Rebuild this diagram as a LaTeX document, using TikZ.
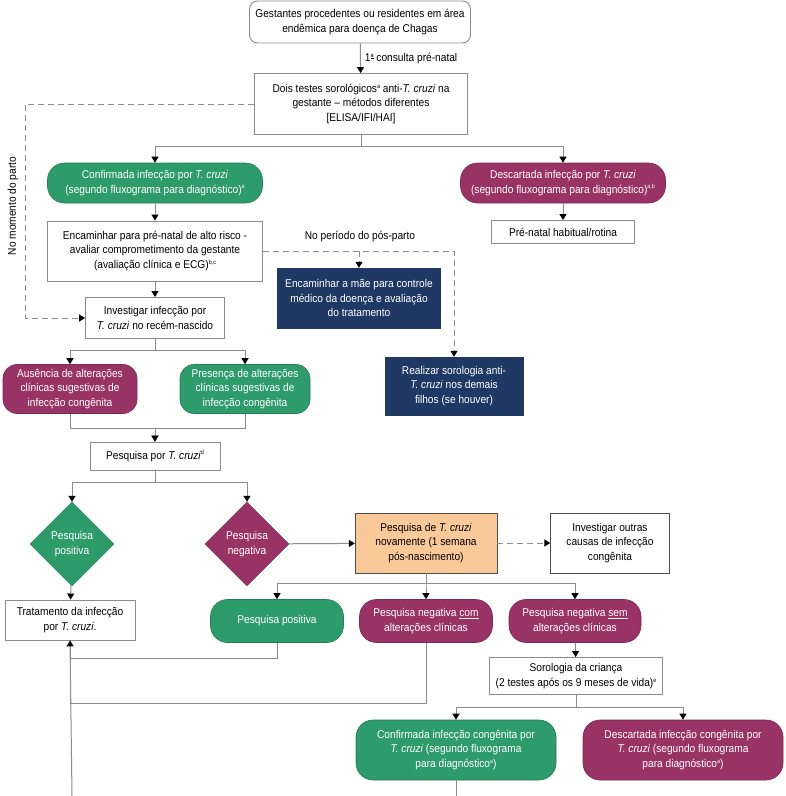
\documentclass[tikz,border=0pt]{standalone}
\usepackage{fontspec}
\setmainfont[FakeStretch=0.9]{Liberation Sans}
\usetikzlibrary{arrows.meta,shapes.geometric}
\definecolor{chgreen}{RGB}{46,155,106}
\definecolor{chmagenta}{RGB}{153,51,102}
\definecolor{chnavy}{RGB}{31,56,100}
\definecolor{chorange}{RGB}{250,201,154}
\definecolor{chline}{RGB}{140,140,140}
\newcommand{\fn}[1]{\raisebox{0.7ex}{\fontsize{6}{6}\selectfont #1}}

\begin{document}
\begin{tikzpicture}[x=1pt,y=-1pt,
  every node/.style={align=center,font=\fontsize{11.3}{14.5}\selectfont,inner sep=2pt},
  plainbox/.style={draw=chline,line width=0.9pt,fill=white,minimum width=#1},
  pill/.style={draw=#1!80!black,fill=#1,text=white,rounded corners=17pt,line width=0.6pt},
  navybox/.style={draw=chnavy,fill=chnavy,text=white,minimum width=#1},
  testdiamond/.style={diamond,draw=#1!80!black,fill=#1,text=white,minimum width=84pt,minimum height=84pt,inner sep=0pt,aspect=1},
  link/.style={draw=chline,line width=1pt},
  arr/.style={link,-{Triangle[color=black,width=7pt,length=6pt]}},
  dasharr/.style={arr,dash pattern=on 6pt off 4pt}]
  \fill[white] (0,0) rectangle (786,796);
  \useasboundingbox (0,0) rectangle (786,796);

  % gestante
  \node[plainbox=221pt,rounded corners=8pt,minimum height=42pt] (top) at (360,22)
    {Gestantes procedentes ou residentes em área\\endêmica para doença de Chagas};
  \node[plainbox=213pt,minimum height=61pt] (dois) at (361,104)
    {Dois testes sorológicos\fn{a} anti-\textit{T. cruzi} na\\gestante -- métodos diferentes\\{[ELISA/IFI/HAI]}};
  \node[pill=chgreen,minimum width=215pt,minimum height=40pt] (conf) at (155,183)
    {Confirmada infecção por \textit{T. cruzi}\\(segundo fluxograma para diagnóstico)\fn{a}};
  \node[pill=chmagenta,minimum width=205pt,minimum height=40pt] (desc) at (563,183)
    {Descartada infecção por \textit{T. cruzi}\\(segundo fluxograma para diagnóstico)\fn{a,b}};
  \node[plainbox=143pt,minimum height=23pt] (prenat) at (563,232)
    {Pré-natal habitual/rotina};
  \node[plainbox=215pt,minimum height=60pt] (enc) at (155,251)
    {Encaminhar para pré-natal de alto risco -\\avaliar comprometimento da gestante\\(avaliação clínica e ECG)\fn{b,c}};
  \node[navybox=163pt,minimum height=60pt] (mae) at (359,298)
    {Encaminhar a mãe para controle\\médico da doença e avaliação\\do tratamento};
  \node[navybox=138pt,minimum height=58pt] (real) at (454,386)
    {Realizar sorologia anti-\\\textit{T. cruzi} nos demais\\filhos (se houver)};
  \node[plainbox=139pt,minimum height=41pt] (inv) at (155,318)
    {Investigar infecção por\\\textit{T. cruzi} no recém-nascido};

  % recem-nascido
  \node[pill=chmagenta,rounded corners=14pt,minimum width=134pt,minimum height=49pt] (aus) at (70,389)
    {Ausência de alterações\\clínicas sugestivas de\\infecção congênita};
  \node[pill=chgreen,rounded corners=14pt,minimum width=130pt,minimum height=49pt] (pres) at (245,389)
    {Presença de alterações\\clínicas sugestivas de\\infecção congênita};
  \node[plainbox=130pt,minimum height=28pt] (pesq) at (155,456)
    {Pesquisa por \textit{T. cruzi}\fn{d}};
  \node[testdiamond=chgreen] (dpos) at (72,544) {Pesquisa\\positiva};
  \node[testdiamond=chmagenta] (dneg) at (247,544) {Pesquisa\\negativa};
  \node[draw=black!70,fill=chorange,minimum width=142pt,minimum height=60pt] (nova) at (426,543)
    {Pesquisa de \textit{T. cruzi}\\novamente (1 semana\\pós-nascimento)};
  \node[draw=black!70,fill=white,minimum width=119pt,minimum height=60pt] (outras) at (610,543)
    {Investigar outras\\causas de infecção\\congênita};
  \node[plainbox=130pt,minimum height=40pt] (trat) at (70,620)
    {Tratamento da infecção\\por \textit{T. cruzi}.};
  \node[pill=chgreen,minimum width=133pt,minimum height=43pt] (ppos) at (277,621)
    {Pesquisa positiva};
  \node[pill=chmagenta,minimum width=133pt,minimum height=43pt] (pcom) at (426,621)
    {Pesquisa negativa \underline{com}\\alterações clínicas};
  \node[pill=chmagenta,minimum width=132pt,minimum height=43pt] (psem) at (575,621)
    {Pesquisa negativa \underline{sem}\\alterações clínicas};
  \node[plainbox=173pt,minimum height=37pt] (sor) at (576,676)
    {Sorologia da criança\\(2 testes após os 9 meses de vida)\fn{e}};
  \node[pill=chgreen,minimum width=200pt,minimum height=60pt] (cconf) at (456,750)
    {Confirmada infecção congênita por\\\textit{T. cruzi} (segundo fluxograma\\para diagnóstico\fn{a})};
  \node[pill=chmagenta,minimum width=200pt,minimum height=60pt] (cdesc) at (683,750)
    {Descartada infecção congênita por\\\textit{T. cruzi} (segundo fluxograma\\para diagnóstico\fn{a})};
  \coordinate (rail) at (25,0);
  \coordinate (bot1) at (72,796);
  \coordinate (bot2) at (456,796);

  % connectors
  \draw[arr] (top) -- node[right,xshift=2pt] {1\fn{\underline{a}} consulta pré-natal} (dois);
  \draw[arr] (dois.south) -- ++(0,12) -| (conf.north);
  \draw[arr] (dois.south) -- ++(0,12) -| (desc.north);
  \draw[arr] (conf) -- (enc);
  \draw[arr] (desc) -- (prenat);
  \draw[arr] (enc) -- (inv);
  \draw[dasharr] (dois.west) -| (rail |- inv.west) -- (inv.west);
  \node[rotate=90] (parto) at (13,206) {No momento do parto};
  \draw[dasharr] (enc.east) -| (real.north);
  \draw[dasharr] (mae.north |- enc.east) -- (mae.north);
  \node (posparto) at (360,237) {No período do pós-parto};
  \draw[arr] (inv.south) -- ++(0,12) -| (aus.north);
  \draw[arr] (inv.south) -- ++(0,12) -| (pres.north);
  \draw[arr] (aus.south) -- ++(0,15) -| (pesq.north);
  \draw[arr] (pres.south) -- ++(0,15) -| (pesq.north);
  \draw[arr] (pesq.south) -- ++(0,12) -| (dpos.north);
  \draw[arr] (pesq.south) -- ++(0,12) -| (dneg.north);
  \draw[arr] (dpos) -- (trat);
  \draw[arr] (dneg) -- (nova);
  \draw[dasharr] (nova) -- (outras);
  \draw[arr] (nova.south) -- ++(0,10) -| (ppos.north);
  \draw[arr] (nova.south) -- ++(0,10) -| (pcom.north);
  \draw[arr] (nova.south) -- ++(0,10) -| (psem.north);
  \draw[link] (ppos.south) -- ++(0,16) -| (trat.south);
  \draw[link] (pcom.south) -- ++(0,61) -| (trat.south);
  \draw[arr] (bot1) -- (trat.south);
  \draw[arr] (psem) -- (sor);
  \draw[arr] (sor.south) -- ++(0,13) -| (cconf.north);
  \draw[arr] (sor.south) -- ++(0,13) -| (cdesc.north);
  \draw[link] (cconf.south) -- (bot2);
\end{tikzpicture}
\end{document}
